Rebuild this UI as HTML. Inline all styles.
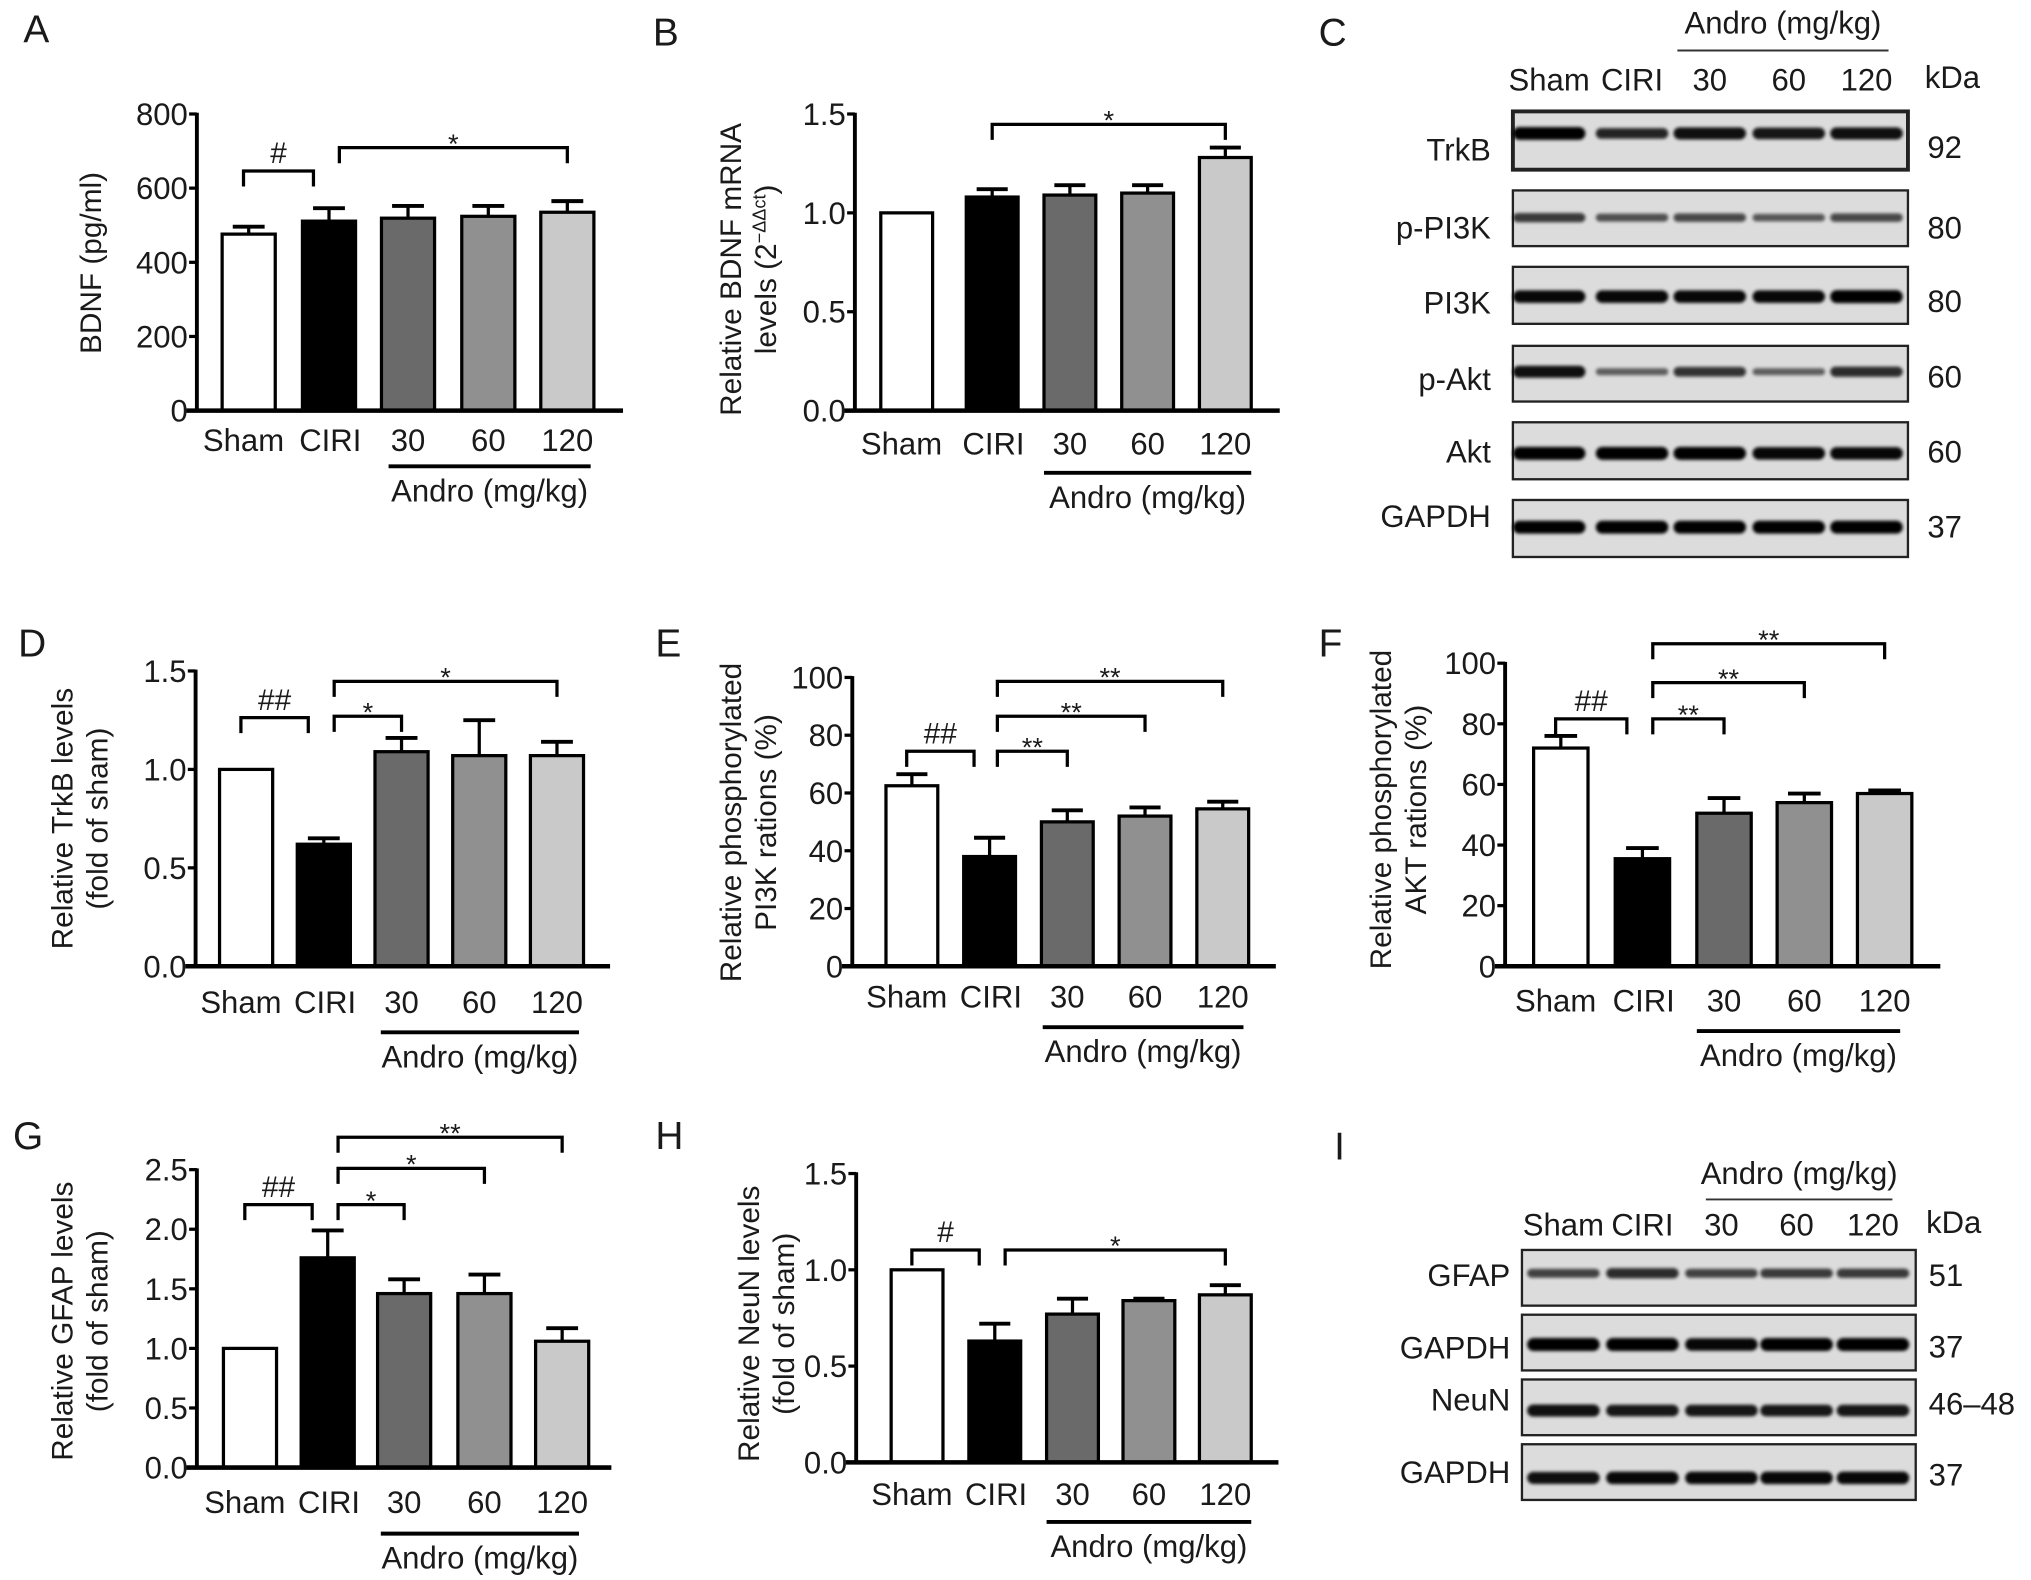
<!DOCTYPE html>
<html><head><meta charset="utf-8">
<style>
html,body{margin:0;padding:0;background:#fff;}
svg{display:block;}
text{font-family:"Liberation Sans",Arial,sans-serif;fill:#1a1a1a;}
</style></head>
<body>
<svg id="fig" width="2031" height="1580" viewBox="0 0 1568 1219.8" xmlns="http://www.w3.org/2000/svg">
<defs><filter id="blur" x="-20%" y="-100%" width="140%" height="300%"><feGaussianBlur stdDeviation="1.3"/></filter></defs>
</svg>
<script>
// ---- data ----
const categories = ["Sham","CIRI","30","60","120"];
const fills = ["#ffffff","#000000","#6a6a6a","#909090","#c9c9c9"];
const aValues = [476, 511, 519, 524, 535];
const aErrors = [20, 35, 33, 28, 30];
const aTicks = ["0","200","400","600","800"];
const bValues = [1.0, 1.08, 1.09, 1.10, 1.28];
const bErrors = [0, 0.04, 0.05, 0.04, 0.05];
const bTicks = ["0.0","0.5","1.0","1.5"];
const dValues = [1.0, 0.62, 1.09, 1.07, 1.07];
const dErrors = [0, 0.03, 0.07, 0.18, 0.07];
const dTicks = ["0.0","0.5","1.0","1.5"];
const eValues = [62.5, 38, 50, 52, 54.5];
const eErrors = [4, 6.5, 4, 3, 2.5];
const eTicks = ["0","20","40","60","80","100"];
const fValues = [72, 35.5, 50.5, 54, 57];
const fErrors = [4, 3.5, 5, 3, 1];
const fTicks = ["0","20","40","60","80","100"];
const gValues = [1.0, 1.76, 1.46, 1.46, 1.06];
const gErrors = [0, 0.23, 0.12, 0.16, 0.11];
const gTicks = ["0.0","0.5","1.0","1.5","2.0","2.5"];
const hValues = [1.0, 0.63, 0.77, 0.84, 0.87];
const hErrors = [0, 0.09, 0.08, 0.01, 0.05];
const hTicks = ["0.0","0.5","1.0","1.5"];
// blot band intensities per lane
const cRows = ["TrkB","p-PI3K","PI3K","p-Akt","Akt","GAPDH"];
const cKda = ["92","80","80","60","60","37"];
const cIntensity = [[1.0,0.75,0.9,0.85,0.9],[0.6,0.45,0.5,0.4,0.5],[0.95,0.95,0.95,0.95,1.0],[0.9,0.35,0.65,0.35,0.7],[1.0,1.0,1.0,0.95,0.95],[1.0,1.0,1.0,1.0,1.0]];
const iRows = ["GFAP","GAPDH","NeuN","GAPDH"];
const iKda = ["51","37","46–48","37"];
const iIntensity = [[0.55,0.7,0.55,0.6,0.6],[1.0,1.0,0.95,1.0,1.0],[0.9,0.85,0.85,0.85,0.85],[0.9,0.95,0.95,0.95,0.95]];

const NS="http://www.w3.org/2000/svg";
const svg=document.getElementById('fig');
const FS=24;
function el(tag,attrs,parent,txt){const e=document.createElementNS(NS,tag);for(const k in attrs)e.setAttribute(k,attrs[k]);if(txt!==undefined)e.textContent=txt;(parent||svg).appendChild(e);return e;}

function panelLetter(t,x,y){
  const e=el('text',{x:x,y:y,'font-size':30},svg,t);
  
  
}

function chart(c){
  const g=el('g',{});
  
  
  const ymax=c.max;
  const y=v=>c.y0-(v/ymax)*(c.y0-c.ytop);
  const xc=i=>c.centers[i];
  c.values.forEach((v,i)=>{
    const top=y(v), ey=y(v+c.errors[i]);
    if(c.errors[i]>0){
      const l=el('line',{x1:xc(i),x2:xc(i),y1:top,y2:ey,stroke:'#000','stroke-width':2.5},g);
      
      
      const cap=el('line',{x1:xc(i)-c.bw*0.3,x2:xc(i)+c.bw*0.3,y1:ey,y2:ey,stroke:'#000','stroke-width':3},g);
      
      
    }
    const r=el('rect',{x:xc(i)-c.bw/2,y:top,width:c.bw,height:c.y0-top,fill:fills[i],stroke:'#000','stroke-width':2.5},g);
    
    
    const lb=el('text',{x:xc(i)+(i===0?-4:(i===1?1:0)),y:c.labY,'font-size':FS,'text-anchor':'middle'},g,categories[i]);
    
    
  });
  const ya=el('line',{x1:c.ax,x2:c.ax,y1:c.ytop-1,y2:c.y0,stroke:'#000','stroke-width':3},g);
  
  
  const xa=el('line',{x1:c.ax-8,x2:c.xend,y1:c.y0,y2:c.y0,stroke:'#000','stroke-width':3.5},g);
  
  
  c.ticks.forEach((t,i)=>{
    const v=ymax*i/(c.ticks.length-1);
    el('line',{x1:c.ax-6,x2:c.ax,y1:y(v),y2:y(v),stroke:'#000','stroke-width':2.5},g);
    const tl=el('text',{x:c.ax-7,y:y(v)+8.5,'font-size':FS,'text-anchor':'end'},g,t);
    
    
  });
  const tg=el('text',{transform:`translate(${c.tx},${c.ty}) rotate(-90)`,'font-size':23,'text-anchor':'middle'},g);
  
  
  c.title.forEach((line,k)=>{
    const ts=el('tspan',{x:0,dy:k===0?0:27},tg);
    if(typeof line==='string') ts.textContent=line;
    else { ts.textContent=line[0]; el('tspan',{'font-size':14,dy:-8},tg,line[1]); el('tspan',{dy:8},tg,line[2]); }
  });
  const ul=el('line',{x1:c.ul[0],x2:c.ul[1],y1:c.ulY,y2:c.ulY,stroke:'#000','stroke-width':3},g);
  
  
  const at=el('text',{x:(c.ul[0]+c.ul[1])/2,y:c.ulY+27,'font-size':FS,'text-anchor':'middle'},g,'Andro (mg/kg)');
  
  
  c.brackets.forEach(b=>{
    const [i1,i2,by,sym]=b;
    const x1=xc(i1)+(i1===0?-4:(b[4]||0)), x2=xc(i2)+(i2===1?-12:0);
    const p=el('path',{d:`M${x1},${by+12} V${by} H${x2} V${by+12}`,fill:'none',stroke:'#000','stroke-width':2.5},g);
    
    
    const s=el('text',{x:(x1+x2)/2,y:sym.startsWith('#')?by-6:by+4,'font-size':sym.startsWith('#')?23:21,'text-anchor':'middle',fill:sym.startsWith('#')?'#1a1a1a':'#555'},g,sym);
    
    
  });
}

function blot(b){
  const g=el('g',{});
  
  
  const h1=el('text',{x:(b.line[0]+b.line[1])/2,y:b.androY,'font-size':FS,'text-anchor':'middle'},g,'Andro (mg/kg)');
  
  
  el('line',{x1:b.line[0],x2:b.line[1],y1:b.lineY,y2:b.lineY,stroke:'#333','stroke-width':1.5},g);
  categories.forEach((cname,i)=>{
    const t=el('text',{x:b.lanes[i],y:b.headY,'font-size':FS,'text-anchor':'middle'},g,cname);
    
    
  });
  const kd=el('text',{x:b.kdaX,y:b.headY-2,'font-size':FS},g,'kDa');
  
  
  b.rows.forEach((r,ri)=>{
    const [top,bot]=b.boxes[ri];
    const box=el('rect',{x:b.x0,y:top,width:b.x1-b.x0,height:bot-top,fill:'#dcdcdc',stroke:'#222','stroke-width':ri===0&&b.id==='c'?3:1.8},g);
    
    
    const lt=el('text',{x:b.labelX,y:b.labelYs[ri],'font-size':FS,'text-anchor':'end'},g,r);
    
    
    const kt=el('text',{x:b.kdaX+2,y:b.kdaYs[ri],'font-size':FS},g,b.kda[ri]);
    
    
    b.intensity[ri].forEach((v,li)=>{
      const bh=3+v*7;
      const band=el('rect',{x:b.lanes[li]-28,y:b.bandY[ri]-bh/2,width:56,height:bh,rx:bh/2,fill:'#000','fill-opacity':0.35+0.65*v,filter:'url(#blur)'},g);
      
      
    });
  });
}

panelLetter('A',18,33); panelLetter('B',504,35); panelLetter('C',1018,35);
panelLetter('D',14,507); panelLetter('E',506,507); panelLetter('F',1018,507);
panelLetter('G',10,887); panelLetter('H',506,887); panelLetter('I',1030,895);

chart({id:'a',values:aValues,errors:aErrors,ticks:aTicks,max:800,ax:152,y0:317,ytop:88,xend:481,centers:[192,254,315,377,438],bw:41,labY:348,
  title:['BDNF (pg/ml)'],tx:78,ty:203,ul:[300,456],ulY:360,
  brackets:[[0,1,132,'#'],[1,4,114,'*',8]]});
chart({id:'b',values:bValues,errors:bErrors,ticks:bTicks,max:1.5,ax:660,y0:317,ytop:88,xend:988,centers:[700,766,826,886,946],bw:40,labY:351,
  title:['Relative BDNF mRNA',['levels (2','−ΔΔct',')']],tx:572,ty:208,ul:[806,966],ulY:365,
  brackets:[[1,4,96,'*',0]]});
chart({id:'d',values:dValues,errors:dErrors,ticks:dTicks,max:1.5,ax:151,y0:746,ytop:518,xend:471,centers:[190,250,310,370,430],bw:41,labY:782,
  title:['Relative TrkB levels','(fold of sham)'],tx:56,ty:632,ul:[294,447],ulY:797,
  brackets:[[0,1,554,'##'],[1,2,553,'*',8],[1,4,526,'*',8]]});
chart({id:'e',values:eValues,errors:eErrors,ticks:eTicks,max:100,ax:658,y0:746,ytop:523,xend:985,centers:[704,764,824,884,944],bw:40,labY:778,
  title:['Relative phosphorylated','PI3K rations (%)'],tx:572,ty:635,ul:[805,960],ulY:793,
  brackets:[[0,1,580,'##'],[1,2,580,'**',6],[1,3,553,'**',6],[1,4,526,'**',6]]});
chart({id:'f',values:fValues,errors:fErrors,ticks:fTicks,max:100,ax:1162,y0:746,ytop:512,xend:1498,centers:[1205,1268,1331,1393,1455],bw:42,labY:781,
  title:['Relative phosphorylated','AKT rations (%)'],tx:1074,ty:625,ul:[1310,1467],ulY:796,
  brackets:[[0,1,555,'##'],[1,2,555,'**',8],[1,3,527,'**',8],[1,4,497,'**',8]]});
chart({id:'g',values:gValues,errors:gErrors,ticks:gTicks,max:2.5,ax:152,y0:1133,ytop:903,xend:472,centers:[193,253,312,374,434],bw:41,labY:1168,
  title:['Relative GFAP levels','(fold of sham)'],tx:56,ty:1020,ul:[294,447],ulY:1184,
  brackets:[[0,1,930,'##'],[1,2,930,'*',8],[1,3,902,'*',8],[1,4,878,'**',8]]});
chart({id:'h',values:hValues,errors:hErrors,ticks:hTicks,max:1.5,ax:661,y0:1129,ytop:906,xend:987,centers:[708,768,828,887,946],bw:40,labY:1162,
  title:['Relative NeuN levels','(fold of sham)'],tx:586,ty:1022,ul:[808,966],ulY:1175,
  brackets:[[0,1,965,'#'],[1,4,965,'*',8]]});

blot({id:'c',rows:cRows,kda:cKda,intensity:cIntensity,x0:1168,x1:1473,lanes:[1196,1260,1320,1381,1441],
  boxes:[[86,131],[147,190],[206,250],[267,310],[326,370],[386,430]],bandY:[103,168,229,287,350,407],
  labelX:1151,labelYs:[124,184,242,301,357,407],kdaX:1486,kdaYs:[122,184,241,299,357,415],
  headY:70,androY:26,lineY:39,line:[1295,1458]});
blot({id:'i',rows:iRows,kda:iKda,intensity:iIntensity,x0:1175,x1:1479,lanes:[1207,1268,1329,1387,1446],
  boxes:[[965,1008],[1015,1058],[1065,1108],[1115,1158]],bandY:[983,1038,1089,1141],
  labelX:1166,labelYs:[993,1049,1089,1145],kdaX:1487,kdaYs:[993,1048,1092,1147],
  headY:954,androY:914,lineY:926,line:[1317,1461]});
</script>
</body></html>
